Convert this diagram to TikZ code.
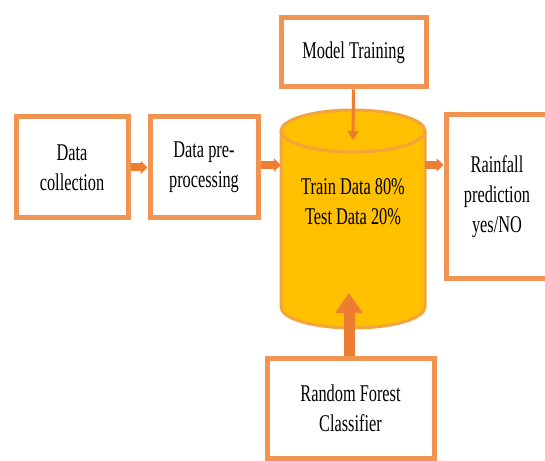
\documentclass[tikz,border=0pt]{standalone}
\usepackage{fontspec}
\setmainfont{Liberation Serif}[FakeStretch=0.68]
\usetikzlibrary{arrows.meta}
\definecolor{boxedge}{RGB}{241,148,82}
\definecolor{flow}{RGB}{237,125,49}
\definecolor{cylfill}{RGB}{255,192,0}
\definecolor{cyledge}{RGB}{243,165,60}
\tikzset{
  stage/.style={draw=boxedge, line width=5pt, fill=white, align=center,
    inner sep=0pt, font=\fontsize{24}{30}\selectfont},
  flowarrow/.style={draw=flow, line width=8pt, -{Triangle[width=13pt,length=7pt]}},
  thinarrow/.style={draw=flow, line width=3pt, -{Triangle[width=11pt,length=9pt]}},
  fatarrow/.style={draw=flow, line width=11pt, -{Triangle[width=26pt,length=20pt]}},
  label/.style={align=center, font=\fontsize{24}{30}\selectfont}
}
\begin{document}
\begin{tikzpicture}[x=1pt,y=1pt]
\useasboundingbox (0,0) rectangle (545,460);
\clip (0,0) rectangle (545,460);
\fill[white] (0,0) rectangle (545,460);

% process boxes
\node[stage, minimum width=112pt, minimum height=101pt] (collect) at (72,292.5) {Data\\collection};
\node[stage, minimum width=108pt, minimum height=101pt] (prep) at (204,292.5) {Data pre-\\processing};
\node[stage, minimum width=145pt, minimum height=69pt] (train) at (353.5,407.5) {Model Training};
\node[stage, minimum width=102pt, minimum height=164pt] (rain) at (497,263) {Rainfall\\prediction\\yes/NO};
\node[stage, minimum width=167pt, minimum height=99pt] (forest) at (350.5,51.5) {Random Forest\\Classifier};

% data store cylinder
\fill[cylfill] (281,329) -- (281,153) arc[start angle=180, end angle=360, x radius=72pt, y radius=21pt] -- (425,329) -- cycle;
\draw[cyledge, line width=3pt] (281,329) -- (281,153) arc[start angle=180, end angle=360, x radius=72pt, y radius=21pt] -- (425,329);
\draw[cyledge, line width=3pt, fill=cylfill] (353,329) ellipse[x radius=72pt, y radius=21pt];
\node[inner sep=0pt, minimum width=144pt, minimum height=218pt] (store) at (353,241) {};
\node[label] (split) at (353,258) {Train Data 80\%\\Test Data 20\%};
\coordinate (topin) at (353,320);
\coordinate (baseIn) at (349,167);

% connectors
\draw[flowarrow] (collect.east) -- (prep.west);
\draw[flowarrow] (prep.east |- 0,295) -- (store.west |- 0,295);
\draw[flowarrow] (store.east |- 0,295) -- (rain.west |- 0,295);
\draw[thinarrow] (train.south) -- (topin);
\draw[fatarrow] (forest.north -| baseIn) -- (baseIn);
\end{tikzpicture}
\end{document}
